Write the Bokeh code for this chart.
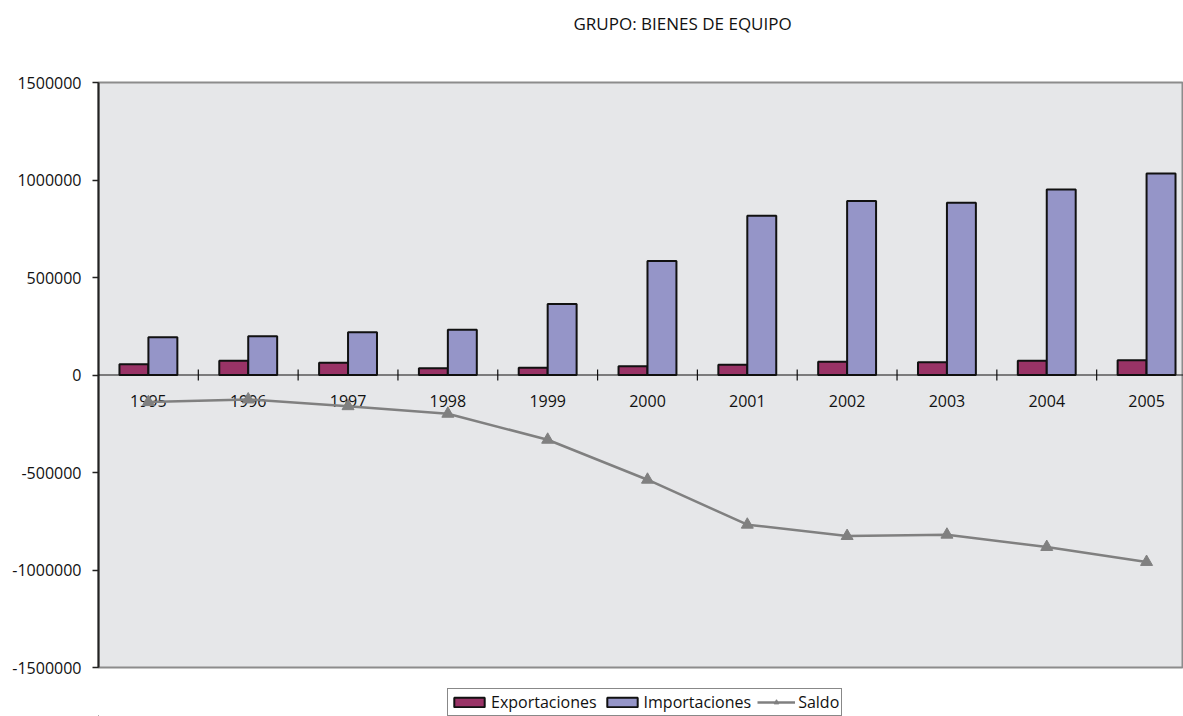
import math
from bokeh.plotting import figure
from bokeh.layouts import column
from bokeh.models import (Range1d, FixedTicker, NumeralTickFormatter, Legend, LegendItem,
                          ColumnDataSource, Title, Span)
from bokeh.core.properties import value
from bokeh.embed import file_html
from bokeh.resources import INLINE

# ---- data ----
years = ["1995", "1996", "1997", "1998", "1999", "2000", "2001", "2002", "2003", "2004", "2005"]
exportaciones = [55000, 72700, 62500, 34800, 36900, 45000, 52000, 67600, 65600, 72700, 75800]
importaciones = [193600, 199000, 219000, 231600, 364700, 584000, 817100, 892400, 883700, 951800, 1033800]
saldo = [-139000, -125500, -160000, -198800, -332000, -537000, -767600, -825700, -818900, -882000, -958800]
y_ticks = [-1500000, -1000000, -500000, 0, 500000, 1000000, 1500000]

FONT = "Open Sans"
BAR_W = 0.29
C_EXP = "#993366"
C_IMP = "#9595c8"
C_SAL = "#808080"

centers = [i + 0.5 for i in range(len(years))]
src = ColumnDataSource(dict(
    year=years,
    xc=centers,
    xe=[c - BAR_W / 2 for c in centers],
    xi=[c + BAR_W / 2 for c in centers],
    exp=exportaciones,
    imp=importaciones,
    sal=saldo,
))
bounds = ColumnDataSource(dict(x=list(range(1, len(years) + 1)), y=[0] * len(years)))

p = figure(width=1183, height=688, output_backend="svg", toolbar_location=None,
           x_range=Range1d(0, 10.87), y_range=Range1d(-1500000, 1500000),
           min_border_left=98, min_border_right=0, min_border_top=82, min_border_bottom=21,
           background_fill_color="#e6e7e9", border_fill_color="white",
           outline_line_color="#8c8c8c", outline_line_width=2)

p.title = Title(text="GRUPO: BIENES DE EQUIPO\n \n ", align="left", offset=475, standoff=4,
                text_font=FONT, text_font_size="17px", text_font_style="normal",
                text_color="#111111")

p.grid.visible = False
p.xaxis.visible = False

# y axis
ya = p.yaxis[0]
ya.ticker = FixedTicker(ticks=y_ticks)
ya.formatter = NumeralTickFormatter(format="0")
ya.major_label_text_font = FONT
ya.major_label_text_font_size = "16px"
ya.major_label_text_color = "#111111"
ya.major_tick_in = 0
ya.major_tick_out = 6
ya.minor_tick_line_color = None
ya.axis_line_color = "#222222"
ya.axis_line_width = 2
ya.major_tick_line_color = "#222222"
ya.major_tick_line_width = 1.5
ya.major_label_standoff = 11

# category axis line at zero with boundary ticks
p.add_layout(Span(location=0, dimension="width", line_color="#111111", line_width=1.2))
p.scatter(x="x", y="y", source=bounds, marker="dash", angle=math.pi / 2, size=11,
          line_color="#111111", line_width=1.2)

# bars
p.vbar(x="xe", top="exp", bottom=0, width=BAR_W, source=src,
       fill_color=C_EXP, line_color="#111111", line_width=2)
p.vbar(x="xi", top="imp", bottom=0, width=BAR_W, source=src,
       fill_color=C_IMP, line_color="#111111", line_width=2)

# year labels just below the zero line
p.text(x="xc", y=0, text="year", source=src, text_font=value(FONT),
       text_font_size="16px", text_align="center", text_baseline="middle",
       y_offset=26, text_color="#111111")

# saldo line
p.line(x="xc", y="sal", source=src, line_color=C_SAL, line_width=2.5)
p.scatter(x="xc", y="sal", source=src, marker="triangle", size=12,
          fill_color=C_SAL, line_color=C_SAL)

# ---- legend strip below the chart ----
lg = figure(width=1183, height=28, output_backend="svg", toolbar_location=None,
            x_range=Range1d(0, 1), y_range=Range1d(0, 1),
            min_border_left=98, min_border_right=0, min_border_top=0, min_border_bottom=0,
            outline_line_color=None, background_fill_color="white", border_fill_color="white")
lg.axis.visible = False
lg.grid.visible = False
# off-screen proxies so that the legend has glyphs to draw
proxy = ColumnDataSource(dict(x=[-10], top=[-10], y=[-10]))
l_exp = lg.vbar(x="x", top="top", width=0.1, source=proxy,
                fill_color=C_EXP, line_color="#111111", line_width=2)
l_imp = lg.vbar(x="x", top="top", width=0.1, source=proxy,
                fill_color=C_IMP, line_color="#111111", line_width=2)
l_line = lg.line(x="x", y="y", source=proxy, line_color=C_SAL, line_width=2.5)
l_mark = lg.scatter(x="x", y="y", source=proxy, marker="triangle", size=12,
                    fill_color=C_SAL, line_color=C_SAL)

legend = Legend(items=[
    LegendItem(label="Exportaciones", renderers=[l_exp]),
    LegendItem(label="Importaciones", renderers=[l_imp]),
    LegendItem(label="Saldo", renderers=[l_line, l_mark]),
], orientation="horizontal", location=(349, 0),
    label_text_font=FONT, label_text_font_size="16px", label_text_color="#111111",
    glyph_width=38, glyph_height=12, label_standoff=3, spacing=6,
    padding=2, margin=0, border_line_color="#111111", border_line_width=1,
    background_fill_color="white", label_height=14)
lg.add_layout(legend, "center")

layout = column(p, lg, spacing=0)
open("out.html", "w").write(file_html(layout, INLINE))
